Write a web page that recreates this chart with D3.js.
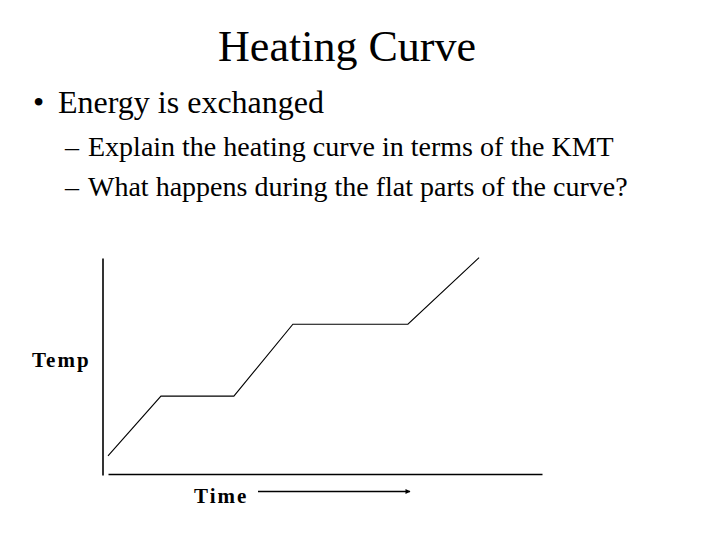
<!DOCTYPE html>
<html>
<head>
<meta charset="utf-8">
<script src="https://cdn.jsdelivr.net/npm/d3@7"></script>
<style>
  html, body { margin: 0; padding: 0; background: #fff; }
  svg { display: block; font-family: "Liberation Serif", "Times New Roman", serif; }
</style>
</head>
<body>
<svg id="viz"></svg>
<script>
// slide text
const titleText = "Heating Curve";
const bulletText = "Energy is exchanged";
const subBullets = [
  "Explain the heating curve in terms of the KMT",
  "What happens during the flat parts of the curve?"
];
const yLabel = "Temp";
const xLabel = "Time";

// heating curve, arbitrary units (0-100 on both axes)
const timeVals = [0, 12.2, 29, 42.6, 69.1, 85.5];
const tempVals = [8.4, 35.9, 35.9, 69, 69, 99.7];

const width = 720, height = 540;
const svg = d3.select("#viz")
  .attr("width", width)
  .attr("height", height);

// title
svg.append("text")
  .attr("x", 347)
  .attr("y", 61)
  .attr("text-anchor", "middle")
  .attr("font-size", "44px")
  .text(titleText);

// bullet
svg.append("text")
  .attr("x", 33)
  .attr("y", 113)
  .attr("font-size", "32px")
  .text("\u2022");
svg.append("text")
  .attr("x", 58)
  .attr("y", 113)
  .attr("font-size", "32px")
  .text(bulletText);

// sub bullets
subBullets.forEach(function(s, i) {
  const yy = 156 + i * 40;
  svg.append("text")
    .attr("x", 65)
    .attr("y", yy)
    .attr("font-size", "28px")
    .text("\u2013");
  svg.append("text")
    .attr("x", 88)
    .attr("y", yy)
    .attr("font-size", "28px")
    .text(s);
});

// scales
const x = d3.scaleLinear().domain([0, 100]).range([108, 542]);
const y = d3.scaleLinear().domain([0, 100]).range([474, 257]);

// axes: plain lines, no ticks
svg.append("g")
  .attr("transform", "translate(0, 474)")
  .call(d3.axisBottom(x).ticks(0).tickSizeOuter(0))
  .select(".domain")
  .attr("stroke-width", 1.6);

svg.append("g")
  .attr("transform", "translate(102.5, 1)")
  .call(d3.axisLeft(y).ticks(0).tickSizeOuter(0))
  .select(".domain")
  .attr("stroke-width", 1.6);

// curve
const pts = timeVals.map((t, i) => [t, tempVals[i]]);
svg.append("path")
  .datum(pts)
  .attr("fill", "none")
  .attr("stroke", "#000")
  .attr("stroke-width", 1.1)
  .attr("d", d3.line().x(d => x(d[0])).y(d => y(d[1])));

// axis labels
svg.append("text")
  .attr("x", 32)
  .attr("y", 366.5)
  .attr("font-size", "21px")
  .attr("font-weight", "bold")
  .attr("letter-spacing", "2px")
  .text(yLabel);

svg.append("text")
  .attr("x", 194)
  .attr("y", 503)
  .attr("font-size", "21px")
  .attr("font-weight", "bold")
  .attr("letter-spacing", "2px")
  .text(xLabel);

// arrow next to Time
svg.append("defs").append("marker")
  .attr("id", "arrow")
  .attr("viewBox", "0 0 10 10")
  .attr("refX", 9)
  .attr("refY", 5)
  .attr("markerWidth", 7)
  .attr("markerHeight", 5)
  .attr("markerUnits", "userSpaceOnUse")
  .attr("orient", "auto")
  .append("path")
  .attr("d", "M0,0L10,5L0,10Z")
  .attr("fill", "#000");

svg.append("line")
  .attr("x1", 258)
  .attr("x2", 410)
  .attr("y1", 491.5)
  .attr("y2", 491.5)
  .attr("stroke", "#000")
  .attr("stroke-width", 1.5)
  .attr("marker-end", "url(#arrow)");
</script>
</body>
</html>
